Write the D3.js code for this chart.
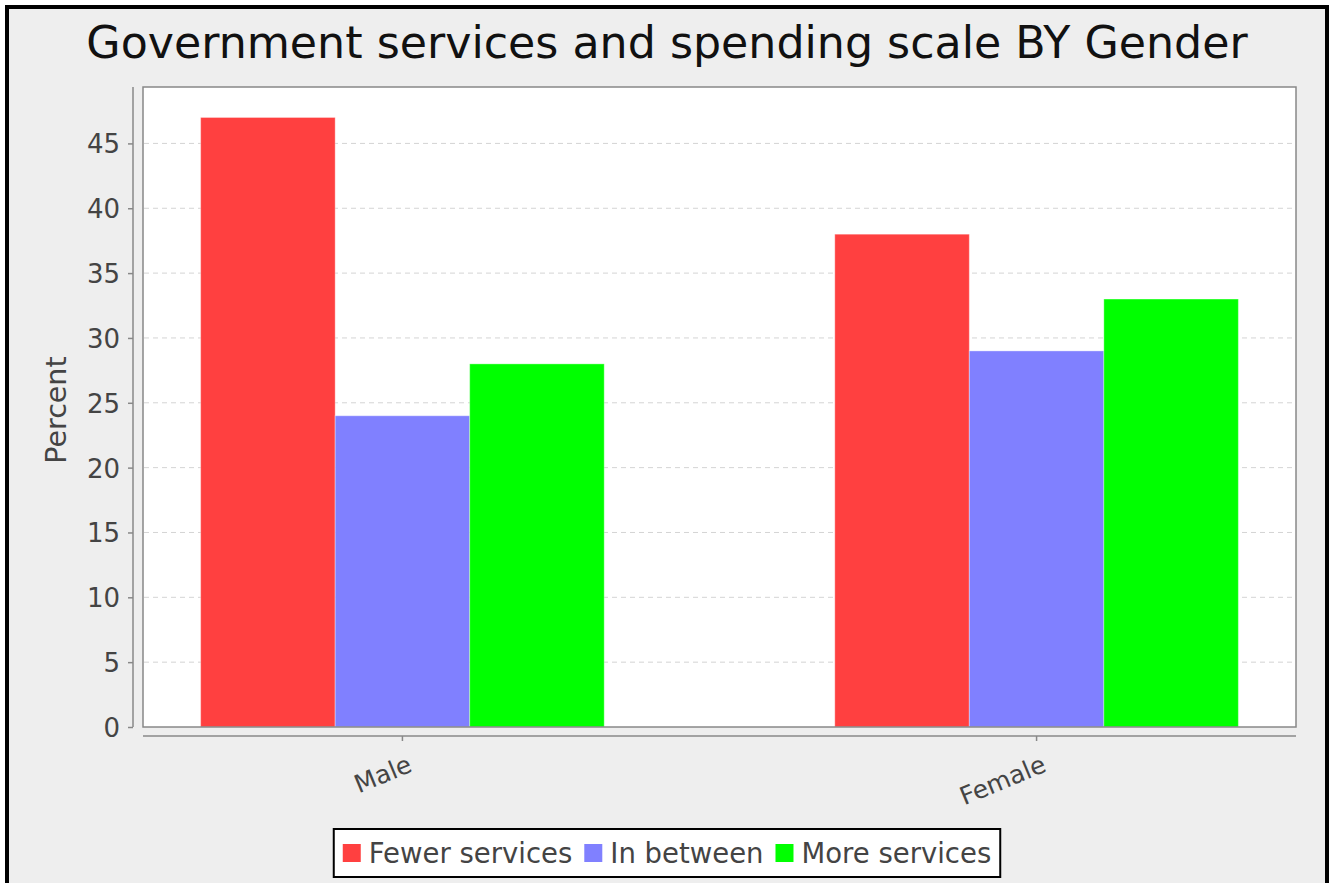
<!DOCTYPE html>
<html>
<head>
<meta charset="utf-8">
<script src="https://cdn.jsdelivr.net/npm/d3@7"></script>
<style>
  html, body { margin: 0; padding: 0; background: #ffffff; }
  svg { display: block; font-family: "DejaVu Sans", sans-serif; }
</style>
</head>
<body>
<svg id="chart" width="1330" height="883"></svg>
<script>
// Survey data: share of respondents by preferred scale of government services
const categories = ["Male", "Female"];
const seriesNames = ["Fewer services", "In between", "More services"];
const fewerServices = [47, 38];
const inBetween = [24, 29];
const moreServices = [28, 33];
const yTicks = [0, 5, 10, 15, 20, 25, 30, 35, 40, 45];
const seriesColors = ["#ff4040", "#8080ff", "#00ff00"];

const seriesValues = [fewerServices, inBetween, moreServices];
const rows = categories.map((c, i) => ({
  category: c,
  values: seriesNames.map((s, k) => ({ series: s, value: seriesValues[k][i], k }))
}));

const svg = d3.select("#chart");

// Chart panel with dark frame
svg.append("rect")
  .attr("x", 7).attr("y", 7)
  .attr("width", 1320).attr("height", 890)
  .attr("fill", "#eeeeee")
  .attr("stroke", "#000").attr("stroke-width", 4);

// Title
svg.append("text")
  .attr("x", 667).attr("y", 58)
  .attr("text-anchor", "middle")
  .attr("font-size", 44.3)
  .attr("fill", "#111")
  .text("Government services and spending scale BY Gender");

// Plot region
const plot = { left: 143, top: 87, right: 1296, bottom: 727 };

const y = d3.scaleLinear()
  .domain([0, d3.max(fewerServices) * 1.05])
  .range([plot.bottom, plot.top]);

const x0 = d3.scaleBand()
  .domain(categories)
  .range([plot.left, plot.right])
  .paddingInner(0.3636)
  .paddingOuter(0.0909);

const x1 = d3.scaleBand()
  .domain(seriesNames)
  .range([0, x0.bandwidth()])
  .padding(0);

svg.append("rect")
  .attr("x", plot.left).attr("y", plot.top)
  .attr("width", plot.right - plot.left)
  .attr("height", plot.bottom - plot.top)
  .attr("fill", "#ffffff");

// Horizontal grid lines
svg.append("g")
  .selectAll("line")
  .data(yTicks.filter(t => t > 0))
  .join("line")
  .attr("x1", plot.left + 1).attr("x2", plot.right - 1)
  .attr("y1", d => y(d)).attr("y2", d => y(d))
  .attr("stroke", "#d4d4d4")
  .attr("stroke-width", 1)
  .attr("stroke-dasharray", "5,4");

// Bars
svg.append("g")
  .selectAll("g")
  .data(rows)
  .join("g")
  .attr("transform", d => `translate(${x0(d.category)},0)`)
  .selectAll("rect")
  .data(d => d.values)
  .join("rect")
  .attr("x", d => x1(d.series))
  .attr("y", d => y(d.value))
  .attr("width", x1.bandwidth())
  .attr("height", d => y(0) - y(d.value))
  .attr("fill", d => seriesColors[d.k])
  .attr("stroke", "rgba(255,255,255,0.35)")
  .attr("stroke-width", 1);

// Plot outline
svg.append("rect")
  .attr("x", plot.left).attr("y", plot.top)
  .attr("width", plot.right - plot.left)
  .attr("height", plot.bottom - plot.top)
  .attr("fill", "none")
  .attr("stroke", "#888").attr("stroke-width", 1.5);

// Y axis (offset to the left of the plot)
const yAxis = d3.axisLeft(y)
  .tickValues(yTicks)
  .tickSize(5)
  .tickPadding(8)
  .tickFormat(d3.format("d"));

const gy = svg.append("g")
  .attr("transform", `translate(133,0)`)
  .call(yAxis);
gy.select(".domain")
  .attr("d", `M0,${plot.top}V${plot.bottom}`)
  .attr("stroke", "#888").attr("stroke-width", 1.5);
gy.selectAll(".tick line").attr("stroke", "#888").attr("stroke-width", 1.5);
gy.selectAll(".tick text")
  .attr("font-size", 26)
  .attr("font-family", "DejaVu Sans, sans-serif")
  .attr("fill", "#444")
  .attr("dy", "0.36em");

// Y axis label
svg.append("text")
  .attr("transform", `translate(66,${(plot.top + plot.bottom) / 2 + 3}) rotate(-90)`)
  .attr("text-anchor", "middle")
  .attr("font-size", 28.5)
  .attr("fill", "#444")
  .text("Percent");

// X axis (below the plot)
const xAxis = d3.axisBottom(x0).tickSize(5).tickFormat("");
const gx = svg.append("g")
  .attr("transform", `translate(0,736)`)
  .call(xAxis);
gx.select(".domain")
  .attr("d", `M${plot.left},0H${plot.right}`)
  .attr("stroke", "#888").attr("stroke-width", 1.5);
gx.selectAll(".tick line").attr("stroke", "#888").attr("stroke-width", 1.5);

// Rotated category labels
svg.append("g")
  .selectAll("text")
  .data(categories)
  .join("text")
  .attr("transform", d => `translate(${x0(d) + x0.bandwidth() / 2 + 2},749) rotate(-22.5)`)
  .attr("text-anchor", "end")
  .attr("dy", "0.95em")
  .attr("font-size", 25)
  .attr("fill", "#444")
  .text(d => d);

// Legend
const legend = svg.append("g");
const legendFont = 27.5;
const sw = 18, gapSwText = 8, gapItems = 12, padX = 9;
const items = legend.selectAll("g")
  .data(seriesNames)
  .join("g");
items.append("rect")
  .attr("width", sw).attr("height", sw)
  .attr("fill", (d, i) => seriesColors[i]);
items.append("text")
  .attr("x", sw + gapSwText)
  .attr("y", sw / 2)
  .attr("dy", "0.36em")
  .attr("font-size", legendFont)
  .attr("fill", "#444")
  .text(d => d);

let cursor = 0;
const offsets = [];
items.each(function () {
  const w = d3.select(this).select("text").node().getComputedTextLength();
  offsets.push(cursor);
  cursor += sw + gapSwText + w + gapItems;
});
const totalW = cursor - gapItems + padX * 2;
const legendLeft = 667 - totalW / 2;
const legendTop = 829, legendH = 48;

legend.insert("rect", ":first-child")
  .attr("x", legendLeft).attr("y", legendTop)
  .attr("width", totalW).attr("height", legendH)
  .attr("fill", "#ffffff")
  .attr("stroke", "#000").attr("stroke-width", 2);

items.attr("transform", (d, i) =>
  `translate(${legendLeft + padX + offsets[i]},${legendTop + (legendH - sw) / 2})`);
</script>
</body>
</html>
